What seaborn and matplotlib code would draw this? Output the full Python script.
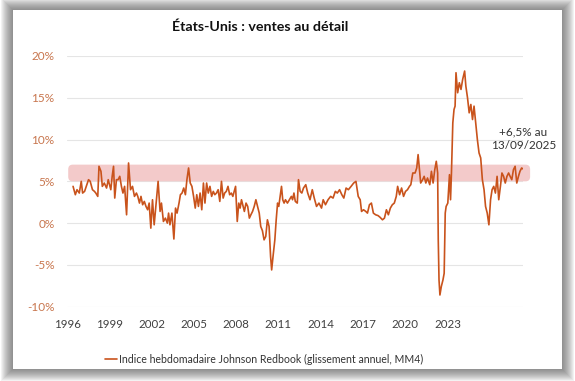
# -*- coding: utf-8 -*-
# Etats-Unis : ventes au detail - indice Johnson Redbook
import numpy as np
import pandas as pd
import matplotlib.pyplot as plt
import seaborn as sns
from matplotlib.patches import Rectangle, FancyBboxPatch

# donnees (annee decimale, glissement annuel en %)
annee = [1996.04, 1996.19, 1996.30, 1996.45, 1996.58, 1996.67, 1996.80, 1996.95,
         1997.06, 1997.17, 1997.32, 1997.45, 1997.54, 1997.67, 1997.75, 1997.88,
         1997.97, 1998.10, 1998.25, 1998.36, 1998.53, 1998.62, 1998.71, 1998.79,
         1998.90, 1999.01, 1999.12, 1999.23, 1999.33, 1999.44, 1999.57, 1999.70,
         1999.83, 1999.96, 2000.09, 2000.22, 2000.31, 2000.42, 2000.52, 2000.63,
         2000.74, 2000.85, 2000.96, 2001.06, 2001.17, 2001.28, 2001.39, 2001.50,
         2001.65, 2001.78, 2001.87, 2002.00, 2002.13, 2002.26, 2002.34, 2002.43,
         2002.56, 2002.69, 2002.80, 2002.90, 2003.03, 2003.12, 2003.23, 2003.34,
         2003.45, 2003.55, 2003.66, 2003.77, 2003.88, 2003.99, 2004.10, 2004.20,
         2004.31, 2004.42, 2004.53, 2004.64, 2004.74, 2004.85, 2004.96, 2005.07,
         2005.18, 2005.29, 2005.39, 2005.50, 2005.61, 2005.72, 2005.83, 2005.94,
         2006.04, 2006.15, 2006.26, 2006.37, 2006.48, 2006.58, 2006.76, 2006.87,
         2006.97, 2007.06, 2007.15, 2007.23, 2007.34, 2007.45, 2007.56, 2007.67,
         2007.77, 2007.88, 2007.99, 2008.10, 2008.21, 2008.32, 2008.42, 2008.53,
         2008.64, 2008.75, 2008.86, 2008.97, 2009.07, 2009.14, 2009.23, 2009.35,
         2009.44, 2009.53, 2009.61, 2009.70, 2009.79, 2009.87, 2009.96, 2010.05,
         2010.18, 2010.31, 2010.44, 2010.52, 2010.61, 2010.70, 2010.83, 2010.91,
         2011.02, 2011.13, 2011.24, 2011.39, 2011.52, 2011.67, 2011.82, 2011.95,
         2012.10, 2012.26, 2012.43, 2012.54, 2012.69, 2012.86, 2013.03, 2013.19,
         2013.34, 2013.47, 2013.62, 2013.77, 2013.90, 2014.05, 2014.20, 2014.38,
         2014.55, 2014.70, 2014.85, 2014.98, 2015.07, 2015.20, 2015.35, 2015.46,
         2015.59, 2015.72, 2015.85, 2016.00, 2016.16, 2016.29, 2016.45, 2016.58,
         2016.71, 2016.84, 2016.97, 2017.10, 2017.23, 2017.36, 2017.45, 2017.58,
         2017.71, 2017.84, 2017.97, 2018.10, 2018.23, 2018.32, 2018.45, 2018.60,
         2018.71, 2018.80, 2018.88, 2018.97, 2019.10, 2019.20, 2019.31, 2019.42,
         2019.57, 2019.68, 2019.79, 2019.90, 2020.00, 2020.09, 2020.13, 2020.18,
         2020.24, 2020.33, 2020.44, 2020.52, 2020.59, 2020.65, 2020.76, 2020.87,
         2020.94, 2021.00, 2021.09, 2021.17, 2021.24, 2021.30, 2021.41, 2021.52,
         2021.63, 2021.74, 2021.87, 2021.95, 2022.06, 2022.17, 2022.28, 2022.39,
         2022.49, 2022.60, 2022.71, 2022.82, 2022.93, 2023.04, 2023.15, 2023.25,
         2023.36, 2023.47, 2023.58, 2023.68, 2023.79, 2023.90, 2024.01, 2024.12,
         2024.23, 2024.33, 2024.44, 2024.55, 2024.66, 2024.77, 2024.87, 2024.98,
         2025.09, 2025.20, 2025.31, 2025.42, 2025.52, 2025.63, 2025.70]
glissement = [4.4, 3.4, 4.0, 3.6, 5.0, 3.6, 3.8, 4.6,
              5.2, 5.0, 4.0, 3.8, 3.6, 3.2, 6.8, 6.2,
              4.4, 4.8, 4.2, 5.2, 4.0, 5.6, 6.8, 3.0,
              5.2, 5.2, 5.6, 4.4, 3.6, 4.4, 1.0, 7.2,
              4.0, 4.4, 3.2, 3.6, 3.2, 2.4, 3.2, 2.2,
              2.6, 2.0, 1.6, 2.4, -0.6, 2.8, -0.2, 2.0,
              5.0, 1.4, 2.4, 0.2, 0.6, 0.0, 1.2, -0.2,
              1.2, -1.9, 1.8, 1.2, 2.4, 3.4, 3.6, 4.2,
              3.4, 5.2, 6.6, 4.8, 4.4, 3.2, 1.8, 3.4,
              2.0, 3.6, 1.6, 4.8, 2.4, 4.8, 3.6, 4.4,
              3.2, 3.8, 3.4, 3.6, 4.0, 2.6, 5.0, 3.0,
              3.6, 3.8, 4.4, 3.4, 3.6, 3.2, 4.4, 0.2,
              2.4, 1.8, 2.8, 2.2, 1.4, 2.4, 2.0, 0.6,
              1.0, 1.4, 2.0, 2.8, 2.0, 1.2, -0.4, -0.9,
              -2.0, -1.6, 0.4, -0.4, -4.0, -5.6, -4.0, -2.0,
              0.4, 2.4, 2.0, 3.2, 4.4, 2.8, 2.4, 2.8,
              2.4, 2.8, 3.2, 2.8, 3.6, 2.6, 2.4, 5.2,
              3.8, 3.6, 4.2, 4.6, 3.6, 2.8, 4.0, 3.0,
              2.0, 2.4, 1.8, 2.8, 2.2, 2.8, 3.2, 3.0,
              3.8, 3.6, 4.0, 3.4, 3.0, 4.2, 4.0, 4.4,
              4.8, 5.0, 3.2, 2.8, 1.4, 1.6, 1.4, 1.2,
              2.2, 2.4, 1.2, 1.0, 0.9, 0.7, 0.4, 0.6,
              1.6, 1.0, 1.8, 2.2, 2.4, 3.2, 4.4, 3.4,
              4.2, 3.2, 3.8, 4.0, 4.4, 4.6, 6.0, 6.0,
              6.6, 8.2, 6.6, 4.8, 5.2, 5.6, 4.8, 5.4,
              4.6, 6.2, 4.8, 6.4, 7.4, 6.0, -2.0, -6.8,
              -8.6, -7.6, -6.8, -6.0, 1.2, 2.0, 2.4, 5.8,
              2.8, 6.0, 12.0, 13.6, 14.0, 18.0, 15.6, 16.8,
              16.0, 17.2, 18.2, 16.4, 15.0, 13.2, 14.2, 12.4,
              14.0, 12.0, 10.0, 8.4, 7.8, 5.2, 4.0, 2.0,
              1.2, -0.2, 2.8, 4.0, 4.4, 3.6, 5.6, 2.8,
              4.4, 6.0, 5.6, 4.8, 5.6, 6.0, 5.6, 5.2,
              6.4, 6.8, 4.8, 5.6, 6.2, 6.6, 6.5]

annees_labels = ['1996', '1999', '2002', '2005', '2008',
                 '2011', '2014', '2017', '2020', '2023']
pct_ticks = [-10, -5, 0, 5, 10, 15, 20]
bande_bas, bande_haut = 5, 7
note_fin = '+6,5% au\n13/09/2025'
serie_nom = 'Indice hebdomadaire Johnson Redbook (glissement annuel, MM4)'

df = pd.DataFrame({'annee': annee, 'glissement': glissement})

sns.set_style('white')
plt.rcParams['font.family'] = ['Lato', 'DejaVu Sans']

orange = '#C9531C'
orange_txt = '#C8764E'

fig = plt.figure(figsize=(5.75, 3.81), dpi=100)

# cadre blanc avec ombre grise
x0, y0, w, h = 13 / 575, 1 - 369 / 381, 549 / 575, 359 / 381
for i in range(12, 0, -1):
    fig.add_artist(Rectangle((x0 - i / 575, y0 - i / 381), w + 2 * i / 575, h + 2 * i / 381,
                             transform=fig.transFigure, fc='#444444', ec='none',
                             alpha=0.065, zorder=-3))
fig.add_artist(Rectangle((x0, y0), w, h, transform=fig.transFigure,
                         fc='white', ec='none', zorder=-1))

ax = fig.add_axes([67 / 575, 1 - 306.7 / 381, 456 / 575, 250.7 / 381])
ax.set_facecolor('none')

sns.lineplot(data=df, x='annee', y='glissement', color=orange, linewidth=1.2,
             label=serie_nom, ax=ax, zorder=3)

# bande 5-7 %
ax.add_patch(FancyBboxPatch((1995.72, bande_bas), 30.47, bande_haut - bande_bas,
                            boxstyle='round,pad=0,rounding_size=0.3', mutation_aspect=1.84,
                            fc='#F3CACA', ec='none', clip_on=False, zorder=1))

ax.set_xlim(1996.0, 2025.72)
ax.set_ylim(-10, 20)
ax.set_yticks(pct_ticks)
ax.set_yticklabels([f'{v}%' for v in pct_ticks], color=orange_txt, fontsize=8.5)
# les etiquettes d'annees suivent l'espacement du graphique source
ax.set_xticks(np.linspace(1995.64, 2020.74, len(annees_labels)))
ax.set_xticklabels(annees_labels, color='#404040', fontsize=8.3)
ax.tick_params(axis='y', length=0, pad=9)
ax.tick_params(axis='x', length=0, pad=9)
ax.grid(axis='y', color='#E5E5E5', linewidth=0.8)
ax.grid(axis='x', visible=False)
for s in ax.spines.values():
    s.set_visible(False)
ax.set_xlabel('')
ax.set_ylabel('')

ax.text(2025.74, 10.15, note_fin, ha='center', va='center', fontsize=8.5,
        color='#333333', linespacing=1.3)

fig.text(260 / 575, 1 - 26.5 / 381, 'États-Unis : ventes au détail', ha='center',
         va='center', fontsize=10.3, fontweight='bold', color='#111111')

ax.get_legend().remove()
fig.legend(*ax.get_legend_handles_labels(), loc='center', bbox_to_anchor=(264 / 575, 1 - 359 / 381),
           frameon=False, fontsize=7.6, handlelength=1.2, handletextpad=0.15,
           labelcolor='#333333')

fig.savefig('out.png', dpi=100)
